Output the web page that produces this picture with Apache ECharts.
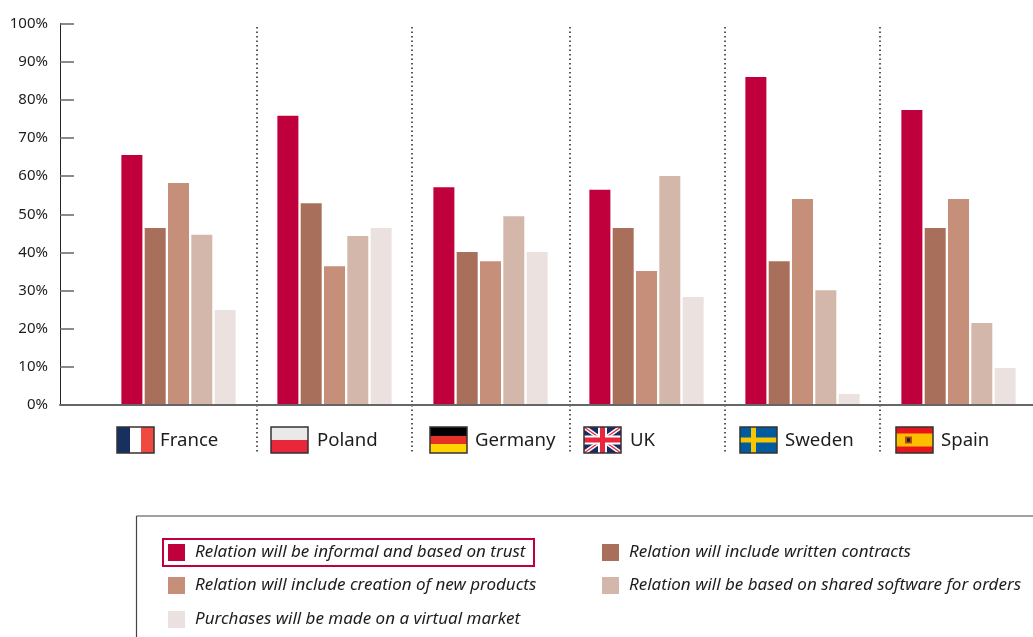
<!DOCTYPE html>
<html>
<head>
<meta charset="utf-8">
<style>
  html, body { margin: 0; padding: 0; background: #fff; }
  #chart { width: 1033px; height: 637px; }
</style>
</head>
<body>
<div id="chart"></div>
<script src="https://cdn.jsdelivr.net/npm/echarts@6/dist/echarts.min.js"></script>
<script>
const countries = ["France", "Poland", "Germany", "UK", "Sweden", "Spain"];
const yTicks = [0, 10, 20, 30, 40, 50, 60, 70, 80, 90, 100];

const seriesNames = [
  "Relation will be informal and based on trust",
  "Relation will include written contracts",
  "Relation will include creation of new products",
  "Relation will be based on shared software for orders",
  "Purchases will be made on a virtual market",
];
const informal = [65.5, 75.8, 57.1, 56.4, 86, 77.3];
const contracts = [46.4, 52.9, 40.1, 46.4, 37.7, 46.4];
const newProducts = [58.2, 36.4, 37.7, 35.1, 54, 54];
const software = [44.6, 44.3, 49.5, 60, 30.1, 21.5];
const virtualMarket = [24.9, 46.4, 40.1, 28.3, 2.9, 9.7];
const seriesValues = [informal, contracts, newProducts, software, virtualMarket];

const colors = ["#bf003c", "#a8705a", "#c68f7a", "#d3b7aa", "#ebe1df"];
const FONT = "'Noto Sans', sans-serif";
const INK = "#1d1d1b";

// where each legend entry sits
const legendSpots = [
  [168, 544], [602, 544],
  [168, 577], [602, 577],
  [168, 611],
];

const dividers = [257, 412, 570, 725, 880];
const flagX = [117, 271, 430, 584, 740, 896];
const labelX = [160, 317, 475, 630, 785, 941];

function rect(x, y, w, h, fill) {
  return { type: "rect", silent: true, shape: { x, y, width: w, height: h }, style: { fill } };
}

function line(x1, y1, x2, y2, stroke, lineWidth) {
  return { type: "line", silent: true, shape: { x1, y1, x2, y2 }, style: { stroke, lineWidth } };
}

// flag artwork, local coords inside a 37x26 box
const flagArt = {
  France: () => [rect(0, 0, 13, 26, "#17305f"), rect(13, 0, 11, 26, "#fff"), rect(24, 0, 13, 26, "#ef4a3f")],
  Poland: () => [rect(0, 0, 37, 13, "#e9e9e7"), rect(0, 13, 37, 13, "#e8273c")],
  Germany: () => [rect(0, 0, 37, 9, "#000"), rect(0, 9, 37, 8, "#e53127"), rect(0, 17, 37, 9, "#ffd500")],
  UK: () => [
    rect(0, 0, 37, 26, "#1d2a5f"),
    line(0, 0, 37, 26, "#fff", 4),
    line(37, 0, 0, 26, "#fff", 4),
    line(0, 0, 37, 26, "#e8273c", 1.3),
    line(37, 0, 0, 26, "#e8273c", 1.3),
    rect(14, 0, 9, 26, "#fff"),
    rect(0, 8.5, 37, 9, "#fff"),
    rect(16, 0, 5, 26, "#e8273c"),
    rect(0, 10.5, 37, 5, "#e8273c"),
  ],
  Sweden: () => [rect(0, 0, 37, 26, "#005c9e"), rect(11, 0, 5, 26, "#f7c600"), rect(0, 10.5, 37, 5, "#f7c600")],
  Spain: () => [
    rect(0, 0, 37, 26, "#e8141c"),
    rect(0, 6.5, 37, 13, "#fcbf00"),
    rect(9, 9.5, 7, 7, "#b5451c"),
    rect(11, 11, 3, 4, "#222"),
  ],
};

function flag(name, x) {
  return {
    type: "group",
    x,
    y: 427,
    silent: true,
    children: flagArt[name]().concat([
      { type: "rect", shape: { x: 0, y: 0, width: 37, height: 26 }, style: { fill: "none", stroke: "#333", lineWidth: 1.5 } },
    ]),
  };
}

const graphics = [];
dividers.forEach((x) => {
  graphics.push({
    type: "line",
    silent: true,
    shape: { x1: x, y1: 27, x2: x, y2: 453 },
    style: { stroke: "#222", lineWidth: 1.5, lineDash: [1.5, 3] },
  });
});
countries.forEach((name, i) => {
  graphics.push(flag(name, flagX[i]));
  graphics.push({
    type: "text",
    silent: true,
    x: labelX[i],
    y: 441,
    style: { text: name, fill: INK, font: "18.6px " + FONT, textVerticalAlign: "middle" },
  });
});
// legend frame, open at the right and bottom edge
graphics.push(line(136.5, 516, 1033, 516, "#444", 1.2));
graphics.push(line(136.5, 516, 136.5, 637, "#444", 1.2));
// box round the highlighted entry
graphics.push({
  type: "rect",
  silent: true,
  shape: { x: 163, y: 539, width: 371, height: 27 },
  style: { fill: "none", stroke: "#bf003c", lineWidth: 2 },
});

const chart = echarts.init(document.getElementById("chart"), null, { renderer: "canvas" });

chart.setOption({
  animation: false,
  backgroundColor: "#fff",
  grid: { left: 60, right: 0, top: 23.5, height: 381.5 },
  // country index along x; the groups are 156px apart and the axis starts well left of France
  xAxis: {
    type: "value",
    min: -118.5 / 156,
    max: 854.5 / 156,
    z: 5,
    axisLine: { show: true, onZero: false, lineStyle: { color: "#666", width: 2 } },
    axisTick: { show: false },
    axisLabel: { show: false },
    splitLine: { show: false },
  },
  yAxis: {
    type: "value",
    min: yTicks[0],
    max: yTicks[yTicks.length - 1],
    interval: yTicks[1] - yTicks[0],
    z: 5,
    axisLine: { show: true, onZero: false, lineStyle: { color: "#222", width: 1 } },
    axisTick: { show: true, inside: true, length: 14, lineStyle: { color: "#666", width: 1.5 } },
    axisLabel: { color: INK, fontFamily: FONT, fontSize: 15, margin: 12, formatter: "{value}%" },
    splitLine: { show: false },
  },
  legend: seriesNames.map((name, i) => ({
    data: [name],
    left: legendSpots[i][0],
    top: legendSpots[i][1],
    padding: 0,
    itemWidth: 17,
    itemHeight: 17,
    icon: "rect",
    selectedMode: false,
    textStyle: {
      color: INK,
      fontFamily: FONT,
      fontStyle: "italic",
      fontSize: 17,
      padding: [6, 0, 0, 5],
    },
  })),
  series: seriesNames.map((name, i) => ({
    name,
    type: "bar",
    barWidth: 21,
    barGap: "11%",
    itemStyle: { color: colors[i] },
    data: seriesValues[i].map((v, k) => [k, v]),
  })),
  graphic: graphics,
});
</script>
</body>
</html>
